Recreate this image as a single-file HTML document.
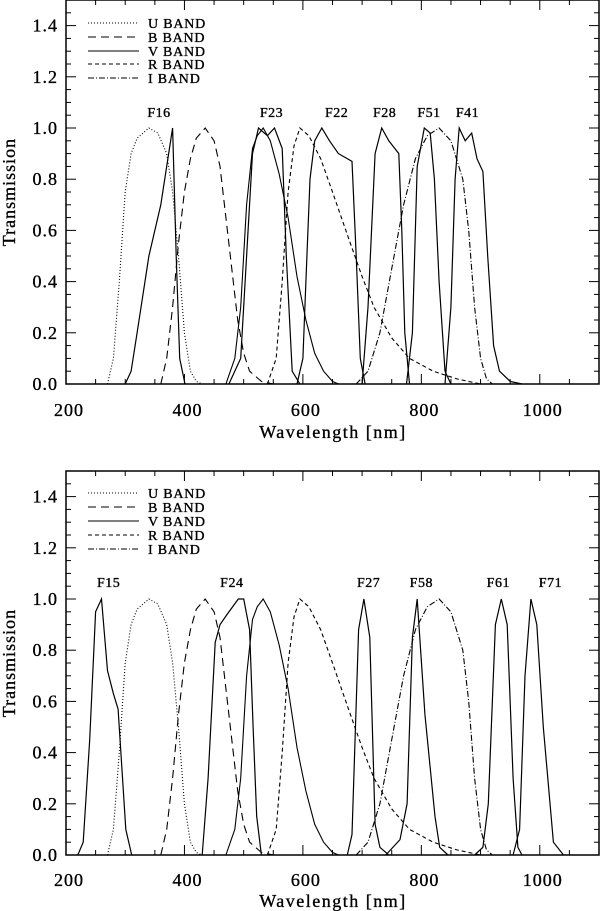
<!DOCTYPE html>
<html><head><meta charset="utf-8"><style>
html,body{margin:0;padding:0;background:#fff}
svg{display:block}
text{font-family:"Liberation Serif",serif;fill:#000;stroke:#000;stroke-width:0.35}
</style></head><body>
<svg id="chart" width="603" height="911" viewBox="0 0 603 911" xmlns="http://www.w3.org/2000/svg"></svg>
<script>
// Standard bands (shared by both panels): [wavelength nm, transmission]
const uBand = [[270,0],[280,0.1],[290,0.4],[300,0.75],[310,0.9],[320,0.96],[340,1.0],[355,0.98],[370,0.9],[380,0.75],[390,0.5],[400,0.2],[410,0.05],[420,0.01],[430,0]];
const bBand = [[360,0],[370,0.1],[380,0.3],[390,0.55],[400,0.75],[410,0.88],[420,0.96],[435,1.0],[450,0.95],[460,0.85],[470,0.65],[480,0.45],[490,0.25],[500,0.12],[510,0.05],[530,0.01],[550,0]];
const vBand = [[470,0],[485,0.1],[495,0.3],[505,0.7],[515,0.92],[523,0.97],[533,1.0],[545,0.95],[560,0.82],[575,0.65],[590,0.42],[605,0.25],[620,0.12],[635,0.05],[650,0.01],[660,0]];
const rBand = [[540,0],[555,0.1],[565,0.4],[575,0.75],[585,0.93],[595,1.0],[610,0.97],[630,0.88],[650,0.75],[680,0.55],[700,0.42],[720,0.3],[750,0.18],[780,0.1],[820,0.05],[860,0.02],[900,0]];
const iBand = [[690,0],[710,0.05],[730,0.2],[750,0.45],[770,0.7],[790,0.88],[810,0.97],[830,1.0],[850,0.95],[870,0.8],[880,0.6],[890,0.3],[900,0.1],[910,0.02],[920,0]];
// Top panel filters
const f16 = [[300,0],[310,0.05],[320,0.2],[340,0.5],[360,0.7],[370,0.85],[380,1.0],[386,0.5],[392,0.1],[401,0]];
const f23 = [[475,0],[495,0.1],[505,0.5],[515,0.9],[525,1.0],[540,0.97],[552,1.0],[565,0.92],[572,0.5],[582,0.05],[595,0]];
const f22 = [[590,0],[600,0.1],[605,0.4],[612,0.8],[620,0.95],[632,1.0],[645,0.95],[660,0.9],[683,0.87],[690,0.5],[697,0.1],[705,0]];
const f28 = [[700,0],[710,0.3],[722,0.9],[733,1.0],[745,0.95],[762,0.9],[767,0.6],[772,0.2],[780,0]];
const f51 = [[775,0],[785,0.2],[793,0.85],[805,1.0],[815,0.98],[822,0.8],[830,0.4],[840,0.05],[850,0]];
const f41 = [[840,0],[850,0.3],[857,0.8],[864,1.0],[874,0.95],[885,0.98],[894,0.88],[904,0.83],[912,0.5],[922,0.15],[932,0.05],[950,0.01],[970,0]];
// Bottom panel filters
const f15 = [[220,0],[229,0.05],[240,0.45],[250,0.95],[260,1.0],[270,0.72],[280,0.63],[288,0.57],[301,0.1],[311,0]];
const f24 = [[430,0],[440,0.3],[452,0.83],[460,0.9],[472,0.94],[491,1.0],[500,1.0],[510,0.88],[516,0.5],[522,0.15],[530,0]];
const f27 = [[675,0],[683,0.08],[694,0.88],[703,1.0],[713,0.85],[722,0.12],[730,0.03],[745,0]];
const f58 = [[740,0],[764,0.06],[776,0.2],[785,0.85],[793,1.0],[806,0.55],[823,0.15],[831,0.03],[845,0]];
const f61 = [[890,0],[904,0.03],[913,0.2],[925,0.9],[935,1.0],[945,0.9],[955,0.3],[963,0.03],[970,0]];
const f71 = [[955,0],[966,0.1],[975,0.7],[985,1.0],[995,0.9],[1006,0.5],[1023,0.05],[1040,0]];

const xTicks = [200,400,600,800,1000];
const yTicks = [0.0,0.2,0.4,0.6,0.8,1.0,1.2,1.4];
const legendLabels = ["U BAND","B BAND","V BAND","R BAND","I BAND"];
const topFilterNames = ["F16","F23","F22","F28","F51","F41"];
const topFilterLabelX = [357,547,657,738,813,878];
const botFilterNames = ["F15","F24","F27","F58","F61","F71"];
const botFilterLabelX = [272,480,711,800,930,1018];

const svg = document.getElementById('chart');
const NS = 'http://www.w3.org/2000/svg';
const X0 = 66, X1 = 599, XMIN = 200, XMAX = 1100, YMAX = 1.5;
function mk(tag, attrs, parent){ const e=document.createElementNS(NS,tag); for(const k in attrs) e.setAttribute(k,attrs[k]); (parent||svg).appendChild(e); return e; }
const dashes = ["1,2","8,5","","4,3","6,2,1,2"];
const bandData = [uBand,bBand,vBand,rBand,iBand];
const bandNames = ['u-band-curve','b-band-curve','v-band-curve','r-band-curve','i-band-curve'];

function panel(name, top, bottom, filters, fNames, fLabelX, legendY, labelY, axisLabelY, titleY){
  const g = mk('g',{});
  
  
  const sx = v => X0 + (v-XMIN)/(XMAX-XMIN)*(X1-X0);
  const sy = v => bottom - v/YMAX*(bottom-top);
  const pts = d => d.map(p=>sx(p[0]).toFixed(1)+','+sy(p[1]).toFixed(1)).join(' ');
  const fr = mk('rect',{x:X0,y:top,width:X1-X0,height:bottom-top,fill:'none',stroke:'#000','stroke-width':1.5},g);
  
  
  for(let v=XMIN; v<=XMAX; v+=50){
    const major = v%200===0; const L = major?10:5;
    mk('line',{x1:sx(v),x2:sx(v),y1:bottom,y2:bottom-L,stroke:'#000','stroke-width':1},g);
    mk('line',{x1:sx(v),x2:sx(v),y1:top,y2:top+L,stroke:'#000','stroke-width':1},g);
  }
  xTicks.forEach(v=>{
    const t = mk('text',{x:sx(v)+3,y:axisLabelY,'text-anchor':'middle','font-size':18,'letter-spacing':'1'},g);
    t.textContent = v;
    
    
  });
  for(let i=0;i<=30;i++){
    const v=i*0.05; const major = i%4===0; const L = major?10:5;
    mk('line',{x1:X0,x2:X0+L,y1:sy(v),y2:sy(v),stroke:'#000','stroke-width':1},g);
    mk('line',{x1:X1,x2:X1-L,y1:sy(v),y2:sy(v),stroke:'#000','stroke-width':1},g);
  }
  yTicks.forEach(v=>{
    const t = mk('text',{x:58,y:sy(v)+6,'text-anchor':'end','font-size':18,'letter-spacing':'1'},g);
    t.textContent = v.toFixed(1);
    
    
  });
  const xt = mk('text',{x:333,y:titleY,'text-anchor':'middle','font-size':18,'letter-spacing':'1.5'},g);
  xt.textContent = 'Wavelength [nm]';
  
  
  const cy = (top+bottom)/2;
  const yt = mk('text',{x:0,y:0,'text-anchor':'middle','font-size':18,'letter-spacing':'1',transform:`translate(15,${cy}) rotate(-90)`},g);
  yt.textContent = 'Transmission';
  
  
  bandData.forEach((d,i)=>{
    const l = mk('polyline',{points:pts(d),fill:'none',stroke:'#000','stroke-width':1.1,'stroke-dasharray':dashes[i]},g);
    
    
  });
  filters.forEach((d,i)=>{
    const l = mk('polyline',{points:pts(d),fill:'none',stroke:'#000','stroke-width':1.2},g);
    
    
    const t = mk('text',{x:sx(fLabelX[i]),y:labelY,'text-anchor':'middle','font-size':14,'letter-spacing':'0.5'},g);
    t.textContent = fNames[i];
    
    
  });
  legendLabels.forEach((lab,i)=>{
    const y = legendY[i];
    const l = mk('line',{x1:88,x2:139,y1:y,y2:y,stroke:'#000','stroke-width':1.1,'stroke-dasharray':dashes[i]},g);
    
    
    const t = mk('text',{x:148,y:y+5,'font-size':14,'letter-spacing':'0.8'},g);
    t.textContent = lab;
    
    
  });
}
panel('top-panel',0,384,[f16,f23,f22,f28,f51,f41],topFilterNames,topFilterLabelX,[23,37,51,64,78],117,416,438);
panel('bottom-panel',471,855,[f15,f24,f27,f58,f61,f71],botFilterNames,botFilterLabelX,[493,507,521,535,549],587,886,907);
</script>
</body></html>
